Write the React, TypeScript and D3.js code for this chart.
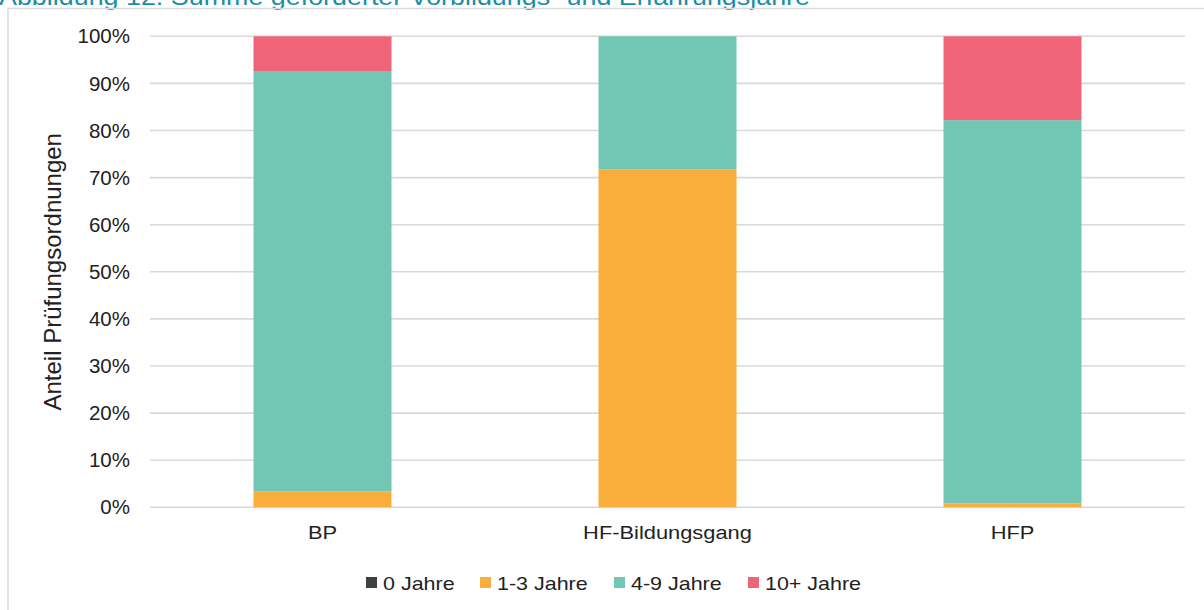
import React from "react";
import * as d3 from "d3";

const categories = ["BP", "HF-Bildungsgang", "HFP"];
const seriesNames = ["0 Jahre", "1-3 Jahre", "4-9 Jahre", "10+ Jahre"];
const seriesColors = ["#404040", "#F9AE3B", "#71C7B3", "#F06479"];
const jahre0 = [0, 0, 0];
const jahre1bis3 = [3.4, 71.7, 0.8];
const jahre4bis9 = [89.1, 28.3, 81.4];
const jahre10plus = [7.5, 0, 17.8];
const yTicks = [0, 10, 20, 30, 40, 50, 60, 70, 80, 90, 100];

const W = 1204;
const H = 610;
const left = 150;
const right = 1185;
const top = 36.3;
const bottom = 507.3;
const font = "'Liberation Sans', Arial, sans-serif";

export default function App() {
  const x = d3.scaleBand().domain(categories).range([left, right]).paddingInner(0.6).paddingOuter(0.3);
  const y = d3.scaleLinear().domain([0, 100]).range([bottom, top]);
  const rows = categories.map((c, i) => ({
    cat: c,
    "0 Jahre": jahre0[i],
    "1-3 Jahre": jahre1bis3[i],
    "4-9 Jahre": jahre4bis9[i],
    "10+ Jahre": jahre10plus[i],
  }));
  const stacked = d3.stack<any>().keys(seriesNames)(rows);
  const legendX = [366, 480, 614, 748];

  return (
    <svg width={W} height={H} style={{ position: "absolute", left: 0, top: 0, background: "#fff" }}>
      <text transform="translate(-1,5) scale(1.12,1)" fontFamily={font} fontSize={24} fill="#1B8EA3">
        Abbildung 12: Summe geforderter Vorbildungs- und Erfahrungsjahre
      </text>
      <path d={`M8,${H} V8.5 H${W}`} fill="none" stroke="#d9d9d9" strokeWidth={1.5} />
      {yTicks.map((t) => (
        <g key={t}>
          <line x1={left} x2={right} y1={y(t)} y2={y(t)} stroke="#d9d9d9" strokeWidth={1.6} />
          <text x={130} y={y(t)} dy="0.35em" textAnchor="end" fontFamily={font} fontSize={20.5} fill="#222">
            {t}%
          </text>
        </g>
      ))}
      {stacked.map((s, si) => (
        <g key={s.key} fill={seriesColors[si]}>
          {s.map((d, i) =>
            d[1] - d[0] > 0 ? (
              <rect
                key={i}
                x={x(categories[i])}
                width={x.bandwidth()}
                y={y(d[1])}
                height={y(d[0]) - y(d[1])}
              />
            ) : null
          )}
        </g>
      ))}
      {categories.map((c) => (
        <text
          key={c}
          transform={`translate(${(x(c) as number) + x.bandwidth() / 2},539) scale(1.15,1)`}
          textAnchor="middle"
          fontFamily={font}
          fontSize={19}
          fill="#222"
        >
          {c}
        </text>
      ))}
      <text
        transform={`translate(61,${(top + bottom) / 2}) rotate(-90)`}
        textAnchor="middle"
        fontFamily={font}
        fontSize={24}
        fill="#222"
      >
        Anteil Prüfungsordnungen
      </text>
      {seriesNames.map((n, i) => (
        <g key={n}>
          <rect x={legendX[i]} y={577} width={11} height={11} fill={seriesColors[i]} />
          <text
            transform={`translate(${legendX[i] + 17},589.5) scale(1.13,1)`}
            fontFamily={font}
            fontSize={19}
            fill="#222"
          >
            {n}
          </text>
        </g>
      ))}
    </svg>
  );
}
